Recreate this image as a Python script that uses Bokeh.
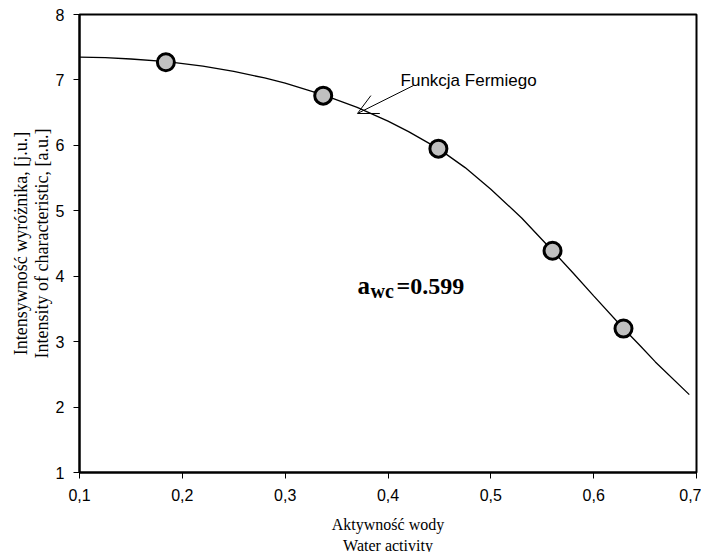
from bokeh.plotting import figure
from bokeh.models import (FixedTicker, Label, Arrow, OpenHead, Range1d, Title)
from bokeh.embed import file_html
from bokeh.resources import INLINE

# measured points
aw = [0.184, 0.337, 0.449, 0.560, 0.629]
intensity = [7.27, 6.76, 5.95, 4.39, 3.20]

# fitted Fermi curve
curve_x = [0.100, 0.125, 0.150, 0.185, 0.220, 0.250, 0.280, 0.300, 0.337, 0.370, 0.400,
           0.420, 0.449, 0.475, 0.500, 0.530, 0.560, 0.580, 0.600, 0.629, 0.645, 0.660, 0.693]
curve_y = [7.35, 7.34, 7.32, 7.28, 7.21, 7.13, 7.03, 6.95, 6.77, 6.58, 6.37,
           6.21, 5.95, 5.66, 5.33, 4.89, 4.39, 4.05, 3.70, 3.20, 2.94, 2.69, 2.19]

x_ticks = [0.1, 0.2, 0.3, 0.4, 0.5, 0.6, 0.7]
x_tick_labels = ["0,1", "0,2", "0,3", "0,4", "0,5", "0,6", "0,7"]
y_ticks = [1, 2, 3, 4, 5, 6, 7, 8]

p = figure(frame_width=617, frame_height=458, output_backend="svg", toolbar_location=None,
           x_range=Range1d(0.1, 0.7), y_range=Range1d(1, 8),
           min_border_left=79, min_border_right=5, min_border_top=14, min_border_bottom=40,
           background_fill_color="white", border_fill_color="white")
p.grid.visible = False
p.outline_line_color = "black"
p.outline_line_width = 2

p.xaxis.ticker = FixedTicker(ticks=x_ticks)
p.xaxis.major_label_overrides = {t: l for t, l in zip(x_ticks, x_tick_labels)}
p.yaxis.ticker = FixedTicker(ticks=y_ticks)
for ax in (p.xaxis, p.yaxis):
    ax.axis_line_width = 2
    ax.axis_line_color = "black"
    ax.major_tick_out = 6
    ax.major_tick_in = 0
    ax.major_tick_line_color = "black"
    ax.minor_tick_line_color = None
    ax.major_label_text_font = "Liberation Sans"
    ax.major_label_text_font_size = "16px"
    ax.major_label_text_color = "black"
    ax.axis_label_text_font = "Liberation Serif"
    ax.axis_label_text_font_style = "normal"
    ax.axis_label_text_color = "black"
p.xaxis.axis_label_text_font_size = "16px"
p.yaxis.axis_label_text_font_size = "18px"
p.xaxis.major_label_standoff = 10
p.yaxis.major_label_standoff = 9
p.xaxis.axis_label = "Aktywność wody"
p.xaxis.axis_label_standoff = 12
p.yaxis.axis_label = "Intensity of characteristic, [a.u.]"
p.yaxis.axis_label_standoff = 1

p.add_layout(Title(text="Water activity", align="center", text_font="Liberation Serif",
                   text_font_size="16px", text_font_style="normal", text_color="black",
                   standoff=-2), "below")
p.add_layout(Title(text="Intensywność wyróżnika, [j.u.]", align="center",
                   text_font="Liberation Serif", text_font_size="18px",
                   text_font_style="normal", text_color="black", standoff=-5), "left")

p.line(curve_x, curve_y, line_color="black", line_width=1.3)
p.scatter(aw, intensity, size=17, fill_color="#c0c0c0", line_color="black", line_width=3)

# arrow annotation
p.add_layout(Arrow(end=OpenHead(size=20, line_color="black", line_width=1),
                   x_start=0.4248, y_start=6.915, x_end=0.3703, y_end=6.487,
                   line_color="black", line_width=1))
p.add_layout(Label(x=0.4122, y=6.99, text="Funkcja Fermiego", text_font="Liberation Sans",
                   text_font_size="17px", text_color="black", text_baseline="alphabetic"))

# a_wc label
p.add_layout(Label(x=278, y=187, x_units="screen", y_units="screen", text="a",
                   text_font="Liberation Serif", text_font_style="bold", text_font_size="25px",
                   text_color="black", text_baseline="alphabetic"))
p.add_layout(Label(x=291, y=182, x_units="screen", y_units="screen", text="wc",
                   text_font="Liberation Serif", text_font_style="bold", text_font_size="20px",
                   text_color="black", text_baseline="alphabetic"))
p.add_layout(Label(x=317, y=187, x_units="screen", y_units="screen", text="=0.599",
                   text_font="Liberation Serif", text_font_style="bold", text_font_size="24px",
                   text_color="black", text_baseline="alphabetic"))

open("out.html", "w").write(file_html(p, INLINE))
